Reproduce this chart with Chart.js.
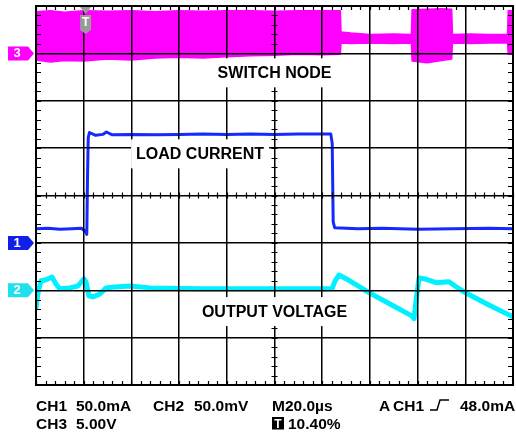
<!DOCTYPE html>
<html><head><meta charset="utf-8">
<script src="https://cdn.jsdelivr.net/npm/chart.js@4"></script>
<style>html,body{margin:0;padding:0;background:#fff}canvas{display:block}</style>
</head><body>
<canvas id="c" width="516" height="437"></canvas>
<script>
// Horizontal axis: time in µs (M 20.0 µs/div, 10 divisions)
// Vertical axis: screen divisions (0 .. 8)
const timeTicks = [0, 20, 40, 60, 80, 100, 120, 140, 160, 180, 200];
const divTicks = [0, 1, 2, 3, 4, 5, 6, 7, 8];

// CH3 switch node: envelope of the switching band (upper / lower edge)
const switchTime = [0, 6, 12, 20, 30, 40, 50, 60, 70, 80, 90, 100, 110, 120, 127.6, 127.9, 132, 140, 150, 157.4, 157.7, 164, 170, 174.3, 174.6, 182, 190, 197.7, 198, 200];
const switchHigh = [7.88, 7.9, 7.87, 7.9, 7.89, 7.9, 7.88, 7.9, 7.89, 7.9, 7.9, 7.89, 7.9, 7.9, 7.9, 7.45, 7.43, 7.4, 7.41, 7.4, 7.92, 7.93, 7.94, 7.93, 7.4, 7.41, 7.4, 7.4, 7.9, 7.9];
const switchLow  = [6.86, 6.82, 6.85, 6.84, 6.88, 6.86, 6.9, 6.92, 6.9, 6.93, 6.95, 6.96, 6.98, 6.97, 6.98, 7.22, 7.21, 7.22, 7.21, 7.22, 6.84, 6.8, 6.85, 6.88, 7.22, 7.21, 7.22, 7.22, 6.98, 6.98];

// CH1 load current
const currentTime = [0, 5, 10, 15, 19, 20.8, 21.3, 21.6, 21.9, 22.4, 25, 28, 29.5, 32, 40, 50, 60, 70, 80, 90, 100, 110, 123.6, 124.2, 124.6, 125.2, 135, 145, 160, 175, 190, 200];
const currentVal  = [3.30, 3.31, 3.29, 3.30, 3.31, 3.24, 3.18, 4.4, 5.22, 5.33, 5.27, 5.29, 5.34, 5.28, 5.29, 5.28, 5.29, 5.30, 5.29, 5.30, 5.29, 5.30, 5.30, 5.1, 3.45, 3.32, 3.30, 3.31, 3.29, 3.30, 3.31, 3.30];

// CH2 output voltage
const voltTime = [0, 0.9, 2.1, 4.2, 6.7, 8.4, 10, 14.3, 17.6, 20.1, 21, 22.2, 23.9, 26.8, 29.4, 33, 39.4, 47.8, 68.8, 89.7, 110.7, 124.1, 125.4, 127, 131.2, 140, 148.4, 157.6, 158.5, 159.4, 160.6, 163.1, 167.7, 173.2, 175.7, 180.3, 189.9, 198.3, 200];
const voltVal  = [1.63, 1.96, 2.2, 2.22, 2.28, 2.13, 2.03, 2.05, 2.09, 2.24, 2.17, 1.88, 1.86, 1.92, 2.05, 2.07, 2.09, 2.05, 2.03, 2.03, 2.03, 2.03, 2.2, 2.32, 2.21, 1.94, 1.71, 1.46, 1.40, 1.8, 2.26, 2.24, 2.16, 2.18, 2.09, 1.94, 1.69, 1.48, 1.44];

// Channel ground markers (left edge)
const markerLabels = ['3', '1', '2'];
const markerLevels = [7, 3, 2];

// Trace annotations
const traceLabels = ['SWITCH NODE', 'LOAD CURRENT', 'OUTPUT VOLTAGE'];
const traceLabelTime = [100, 68.8, 100];
const traceLabelDiv = [6.6, 4.89, 1.56];

// Trigger position (% of record)
const triggerPercent = 10.40;

// Readout texts
const readoutRow1 = ['CH1', '50.0mA', 'CH2', '50.0mV', 'M20.0µs', 'A', 'CH1', '48.0mA'];
const readoutRow2 = ['CH3', '5.00V', '10.40%'];

const pts = (t, v) => t.map((ti, i) => ({x: ti, y: v[i]}));

const MAG = '#ff00ff', BLUE = '#1428ff', CYAN = '#00f0ff';
const markerColors = [MAG, '#1020e8', '#20e0ee'];

const scopePlugin = {
  id: 'scope',
  afterDraw(chart) {
    const {ctx, chartArea: a, scales: {x, y}} = chart;
    ctx.save();
    // minor ticks on border and centre lines
    ctx.strokeStyle = '#000';
    ctx.lineWidth = 1.2;
    ctx.beginPath();
    const cy = y.getPixelForValue(4), cx = x.getPixelForValue(100);
    for (let i = 0; i <= 50; i++) {
      const px = Math.round(x.getPixelForValue(i * 4)) + 0.5;
      ctx.moveTo(px, a.top); ctx.lineTo(px, a.top + 4);
      ctx.moveTo(px, a.bottom); ctx.lineTo(px, a.bottom - 4);
      ctx.moveTo(px, cy - 3); ctx.lineTo(px, cy + 3);
    }
    for (let i = 0; i <= 40; i++) {
      const py = Math.round(y.getPixelForValue(i * 0.2)) + 0.5;
      ctx.moveTo(a.left, py); ctx.lineTo(a.left + 5, py);
      ctx.moveTo(a.right, py); ctx.lineTo(a.right - 5, py);
      ctx.moveTo(cx - 3, py); ctx.lineTo(cx + 3, py);
    }
    ctx.stroke();
    // border
    ctx.lineWidth = 2;
    ctx.strokeRect(a.left, a.top, a.right - a.left, a.bottom - a.top);

    // trace labels with white boxes
    ctx.font = 'bold 16px "Liberation Sans", Arial, sans-serif';
    ctx.textAlign = 'center';
    ctx.textBaseline = 'middle';
    traceLabels.forEach((s, i) => {
      const px = x.getPixelForValue(traceLabelTime[i]);
      const py = y.getPixelForValue(traceLabelDiv[i]);
      const w = ctx.measureText(s).width;
      ctx.fillStyle = '#fff';
      ctx.fillRect(px - w / 2 - 5, py - 14, w + 10, 29);
      ctx.fillStyle = '#000';
      ctx.fillText(s, px, py + 1);
    });

    // channel markers
    ctx.font = 'bold 13px "Liberation Sans", Arial, sans-serif';
    markerLabels.forEach((s, i) => {
      const py = y.getPixelForValue(markerLevels[i]);
      const tip = a.left - 2;
      ctx.fillStyle = markerColors[i];
      ctx.beginPath();
      ctx.moveTo(8, py - 7);
      ctx.lineTo(tip - 6, py - 7);
      ctx.lineTo(tip, py);
      ctx.lineTo(tip - 6, py + 7);
      ctx.lineTo(8, py + 7);
      ctx.closePath();
      ctx.fill();
      ctx.fillStyle = '#fff';
      ctx.fillText(s, 17, py + 0.5);
    });

    // trigger position marker
    const tx = a.left + (a.right - a.left) * triggerPercent / 100;
    ctx.fillStyle = '#9a9a9a';
    ctx.beginPath();
    ctx.moveTo(tx - 5.5, a.top + 1); ctx.lineTo(tx + 5.5, a.top + 1); ctx.lineTo(tx, a.top + 8);
    ctx.closePath(); ctx.fill();
    ctx.beginPath();
    ctx.moveTo(tx - 5.5, a.top + 9); ctx.lineTo(tx + 5.5, a.top + 9);
    ctx.lineTo(tx + 5.5, a.top + 24); ctx.lineTo(tx, a.top + 28); ctx.lineTo(tx - 5.5, a.top + 24);
    ctx.closePath(); ctx.fill();
    ctx.fillStyle = '#fff';
    ctx.font = 'bold 12px "Liberation Sans", Arial, sans-serif';
    ctx.fillText('T', tx, a.top + 17);

    // readout
    ctx.fillStyle = '#000';
    ctx.textAlign = 'left';
    ctx.textBaseline = 'alphabetic';
    ctx.font = 'bold 15.5px "Liberation Sans", Arial, sans-serif';
    const r1x = [36, 76, 153, 194, 272, 379, 393, 460];
    readoutRow1.forEach((s, i) => ctx.fillText(s, r1x[i], 411));
    const r2x = [36, 76, 288];
    readoutRow2.forEach((s, i) => ctx.fillText(s, r2x[i], 429));
    // trigger slope symbol
    ctx.strokeStyle = '#000';
    ctx.lineWidth = 1.5;
    ctx.beginPath();
    ctx.moveTo(430, 410); ctx.lineTo(437, 410); ctx.lineTo(440, 400); ctx.lineTo(449, 400);
    ctx.stroke();
    // T box in readout
    ctx.fillRect(272, 417, 12, 12.5);
    ctx.fillStyle = '#fff';
    ctx.font = 'bold 12px "Liberation Sans", Arial, sans-serif';
    ctx.textAlign = 'center';
    ctx.fillText('T', 278, 428);
    ctx.restore();
  }
};

new Chart(document.getElementById('c'), {
  type: 'line',
  data: {
    datasets: [
      {data: pts(switchTime, switchHigh), borderColor: MAG, borderWidth: 1.5, fill: false},
      {data: pts(switchTime, switchLow), borderColor: MAG, borderWidth: 1.5, backgroundColor: MAG, fill: '-1'},
      {data: pts(currentTime, currentVal), borderColor: BLUE, borderWidth: 3, fill: false},
      {data: pts(voltTime, voltVal), borderColor: CYAN, borderWidth: 5, fill: false}
    ]
  },
  options: {
    responsive: false,
    animation: false,
    parsing: true,
    elements: {point: {radius: 0}, line: {tension: 0, borderJoinStyle: 'round', borderCapStyle: 'round'}},
    layout: {padding: {left: 36, top: 6, right: 3, bottom: 52}},
    plugins: {legend: {display: false}, tooltip: {enabled: false}},
    scales: {
      x: {
        type: 'linear', min: 0, max: 200,
        afterBuildTicks: s => { s.ticks = timeTicks.map(v => ({value: v})); },
        afterFit: s => { s.height = 0; },
        ticks: {display: false},
        grid: {color: '#000', lineWidth: 1.5, drawTicks: false, z: 1},
        border: {display: false}
      },
      y: {
        type: 'linear', min: 0, max: 8,
        afterBuildTicks: s => { s.ticks = divTicks.map(v => ({value: v})); },
        afterFit: s => { s.width = 0; },
        ticks: {display: false},
        grid: {color: '#000', lineWidth: 1.5, drawTicks: false, z: 1},
        border: {display: false}
      }
    }
  },
  plugins: [scopePlugin]
});
</script>
</body></html>
